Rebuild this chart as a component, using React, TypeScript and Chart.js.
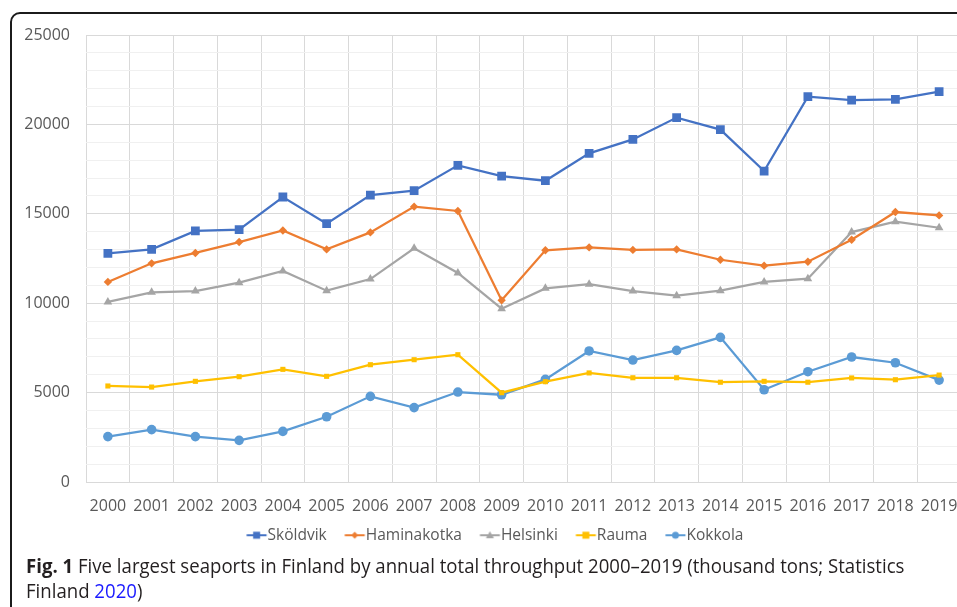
import React, { useEffect, useRef } from 'react';
import { Chart, registerables } from 'chart.js';

Chart.register(...registerables);

const years = ['2000', '2001', '2002', '2003', '2004', '2005', '2006', '2007', '2008', '2009', '2010', '2011', '2012', '2013', '2014', '2015', '2016', '2017', '2018', '2019'];
const skoldvik = [12790, 13010, 14040, 14110, 15940, 14450, 16050, 16290, 17710, 17110, 16850, 18380, 19160, 20380, 19710, 17390, 21550, 21360, 21400, 21830];
const haminakotka = [11190, 12230, 12810, 13420, 14070, 13010, 13960, 15400, 15160, 10160, 12960, 13120, 12980, 13010, 12430, 12100, 12320, 13550, 15100, 14910];
const helsinki = [10070, 10610, 10680, 11150, 11800, 10700, 11350, 13070, 11690, 9690, 10830, 11060, 10680, 10420, 10700, 11190, 11370, 13980, 14560, 14220];
const rauma = [5370, 5310, 5630, 5890, 6300, 5910, 6560, 6840, 7120, 4995, 5610, 6100, 5830, 5830, 5580, 5630, 5580, 5820, 5720, 5980];
const kokkola = [2540, 2930, 2540, 2330, 2830, 3650, 4790, 4160, 5030, 4880, 5740, 7330, 6820, 7360, 8090, 5160, 6170, 6990, 6670, 5700];

const seriesNames = ['Sköldvik', 'Haminakotka', 'Helsinki', 'Rauma', 'Kokkola'];
const seriesColors = ['#4472C4', '#ED7D31', '#A5A5A5', '#FFC000', '#5B9BD5'];
const seriesShapes = ['rect', 'rectRot', 'triangle', 'rect', 'circle'];
const seriesRadius = [6.2, 4.2, 5, 3.6, 4.8];

// legend geometry
const LFS = 15.5;
const LINE = 20;
const TEXT_GAP = 1;
const ITEM_GAP = 18;
const LPAD = 4;
const BOXW = ITEM_GAP - LPAD + LINE + TEXT_GAP - LFS / 2;
const IMGW = 48;
const CANVAS_W = 980;
const PLOT_LEFT = 86;
const PLOT_RIGHT = 961;
const LEFT_PAD = 15;

function makeIcon(color: string, shape: string) {
  const c = document.createElement('canvas');
  c.width = IMGW;
  c.height = 12;
  const g = c.getContext('2d')!;
  const relStart = BOXW + LFS / 2 - TEXT_GAP - LINE;
  const x0 = relStart - BOXW / 2 + IMGW / 2;
  g.strokeStyle = color;
  g.fillStyle = color;
  g.lineWidth = 2;
  g.beginPath();
  g.moveTo(x0, 6);
  g.lineTo(x0 + LINE, 6);
  g.stroke();
  const cx = x0 + LINE / 2, cy = 6;
  g.beginPath();
  if (shape === 'rect') {
    g.rect(cx - 3.5, cy - 3.5, 7, 7);
  } else if (shape === 'rectRot') {
    g.moveTo(cx, cy - 3.5); g.lineTo(cx + 3.5, cy); g.lineTo(cx, cy + 3.5); g.lineTo(cx - 3.5, cy); g.closePath();
  } else if (shape === 'triangle') {
    g.moveTo(cx, cy - 4); g.lineTo(cx + 4, cy + 3); g.lineTo(cx - 4, cy + 3); g.closePath();
  } else {
    g.arc(cx, cy, 3.5, 0, Math.PI * 2);
  }
  g.fill();
  return c;
}

export default function App() {
  const ref = useRef<HTMLCanvasElement>(null);
  useEffect(() => {
    const canvas = ref.current!;
    const data = [skoldvik, haminakotka, helsinki, rauma, kokkola];
    const icons = seriesColors.map((c, i) => makeIcon(c, seriesShapes[i]));
    const chart = new Chart(canvas, {
      type: 'line',
      data: {
        labels: years,
        datasets: data.map((d, i) => ({
          label: seriesNames[i],
          data: d,
          borderColor: seriesColors[i],
          backgroundColor: seriesColors[i],
          borderWidth: 2.25,
          pointStyle: seriesShapes[i] as any,
          pointRadius: seriesRadius[i],
          pointBorderWidth: 0,
          pointBackgroundColor: seriesColors[i],
          tension: 0,
        })),
      },
      options: {
        responsive: false,
        animation: false,
        devicePixelRatio: 1,
        layout: { padding: { top: 35, right: CANVAS_W - PLOT_RIGHT, left: LEFT_PAD, bottom: 0 } },
        scales: {
          x: {
            offset: true,
            afterFit: (s: any) => { s.height = 41.5; },
            grid: { offset: true, color: '#d9d9d9', drawTicks: false, lineWidth: 1 },
            border: { display: false },
            ticks: {
              color: '#595959',
              font: { family: 'Open Sans', size: 16 },
              padding: 15,
              maxRotation: 0,
              autoSkip: false,
            },
          },
          y: {
            min: 0,
            max: 25000,
            afterFit: (s: any) => { s.width = PLOT_LEFT - LEFT_PAD; },
            grid: {
              drawTicks: false,
              color: (ctx: any) => (ctx.tick && ctx.tick.value % 5000 === 0 ? '#d9d9d9' : '#f0f0f0'),
            },
            border: { display: false },
            ticks: {
              stepSize: 1000,
              autoSkip: false,
              color: '#595959',
              font: { family: 'Open Sans', size: 16 },
              padding: 16,
              callback: (v: any) => (Number(v) % 5000 === 0 ? String(v) : ''),
            },
          },
        },
        plugins: {
          tooltip: { enabled: false },
          legend: {
            position: 'bottom',
            labels: {
              color: '#595959',
              font: { family: 'Open Sans', size: LFS },
              usePointStyle: true,
              pointStyleWidth: BOXW,
              padding: LPAD,
              generateLabels: (ch: any) => {
                const base = Chart.defaults.plugins.legend.labels.generateLabels(ch);
                return base.map((l: any, i: number) => ({ ...l, pointStyle: icons[i], lineWidth: 0 }));
              },
            },
          },
        },
      },
    });
    return () => chart.destroy();
  }, []);

  return (
    <div style={{ position: 'fixed', left: 0, top: 0, width: 957, height: 607, overflow: 'hidden', background: '#fff' }}>
      <div style={{ position: 'absolute', left: 10, top: 12, width: 1000, height: 700, border: '2px solid #1b1b1b', borderRadius: 10, boxSizing: 'border-box' }} />
      <canvas ref={ref} width={CANVAS_W} height={553} style={{ position: 'absolute', left: 0, top: 0, width: CANVAS_W, height: 553 }} />
      <div style={{ position: 'absolute', left: 26, top: 553, whiteSpace: 'nowrap', fontFamily: 'Open Sans', fontSize: 20, lineHeight: '25px', color: '#231f20', transformOrigin: '0 0', transform: 'scaleX(0.93)' }}>
        <span style={{ fontWeight: 700 }}>Fig. 1</span> Five largest seaports in Finland by annual total throughput 2000–2019 (thousand tons; Statistics
        <br />
        Finland <span style={{ color: '#1a1aff' }}>2020</span>)
      </div>
    </div>
  );
}
